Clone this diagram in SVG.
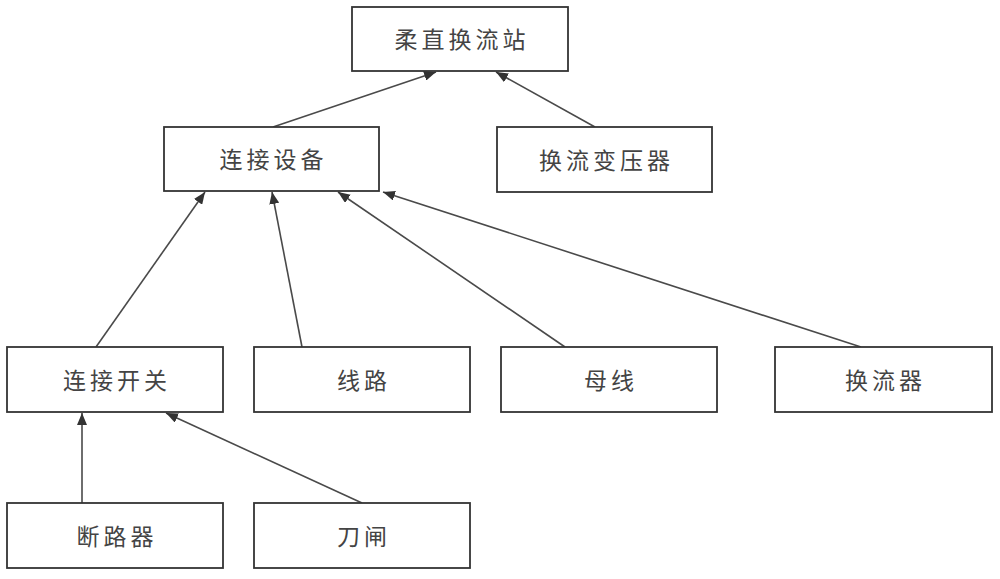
<svg xmlns="http://www.w3.org/2000/svg" width="1000" height="579" viewBox="0 0 1000 579">
  <defs>
    <marker id="arrow" markerWidth="12" markerHeight="10" refX="12" refY="5" orient="auto" markerUnits="userSpaceOnUse">
      <path d="M0,0 L12,5 L0,10 z" fill="#333"/>
    </marker>
  </defs>
  <style>
    .box { fill: #fff; stroke: #333; stroke-width: 1.8; }
    .lbl { font-family: "Noto Sans CJK SC", "Noto Sans CJK JP", sans-serif; font-size: 23px; fill: #444; text-anchor: middle; dominant-baseline: central; letter-spacing: 4px; }
    .conn { stroke: #4a4a4a; stroke-width: 1.6; fill: none; marker-end: url(#arrow); }
  </style>
  <rect width="1000" height="579" fill="#fff"/>
  <g id="connectors">
    <line class="conn" x1="273" y1="127" x2="436" y2="72"/>
    <line class="conn" x1="595" y1="127" x2="496" y2="72"/>
    <line class="conn" x1="96" y1="347" x2="205" y2="192"/>
    <line class="conn" x1="302" y1="347" x2="272" y2="192"/>
    <line class="conn" x1="565" y1="347" x2="338" y2="192"/>
    <line class="conn" x1="861" y1="347" x2="383" y2="192"/>
    <line class="conn" x1="82" y1="503" x2="82" y2="413"/>
    <line class="conn" x1="362" y1="503" x2="166" y2="413"/>
  </g>
  <g id="node-rouzhi">
    <rect class="box" x="352" y="7" width="216" height="64"/>
    <text class="lbl" x="462" y="38">柔直换流站</text>
  </g>
  <g id="node-lianjieshebei">
    <rect class="box" x="164" y="127" width="215" height="64"/>
    <text class="lbl" x="273.5" y="158">连接设备</text>
  </g>
  <g id="node-huanliubianyaqi">
    <rect class="box" x="497" y="127" width="215" height="65"/>
    <text class="lbl" x="606.5" y="158.5">换流变压器</text>
  </g>
  <g id="node-lianjiekaiguan">
    <rect class="box" x="7" y="347" width="216" height="65"/>
    <text class="lbl" x="117" y="378.5">连接开关</text>
  </g>
  <g id="node-xianlu">
    <rect class="box" x="254" y="347" width="216" height="65"/>
    <text class="lbl" x="364" y="378.5">线路</text>
  </g>
  <g id="node-muxian">
    <rect class="box" x="501" y="347" width="216" height="65"/>
    <text class="lbl" x="611" y="378.5">母线</text>
  </g>
  <g id="node-huanliuqi">
    <rect class="box" x="775" y="347" width="217" height="65"/>
    <text class="lbl" x="885.5" y="378.5">换流器</text>
  </g>
  <g id="node-duanluqi">
    <rect class="box" x="7" y="503" width="216" height="65"/>
    <text class="lbl" x="117" y="534.5">断路器</text>
  </g>
  <g id="node-daozha">
    <rect class="box" x="254" y="503" width="216" height="65"/>
    <text class="lbl" x="364" y="534.5">刀闸</text>
  </g>
</svg>
